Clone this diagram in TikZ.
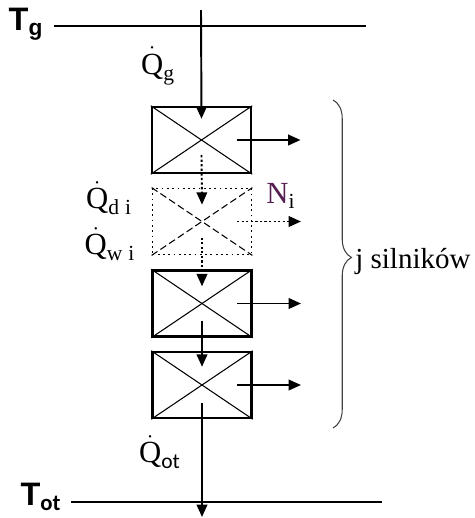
\documentclass[tikz,border=0pt]{standalone}
\usepackage{amsmath}
\usepackage{fontspec}
\setmainfont{Liberation Serif}
\newfontfamily\labelfont{Liberation Sans}
\newfontfamily\subfont{Carlito}
\usetikzlibrary{positioning,arrows.meta,calc,decorations.pathreplacing}
\definecolor{npurple}{RGB}{85,30,80}
\newcommand{\qdot}{\dot{\text{Q}}}

\begin{document}
\begin{tikzpicture}[
  x=0.02cm, y=-0.02cm,
  engine/.style={draw, line width=1.4pt, minimum width=1.98cm, minimum height=1.32cm, inner sep=0pt},
  ghost/.style={draw, dotted, line width=1pt, minimum width=1.98cm, minimum height=1.32cm, inner sep=0pt},
  cross/.style={line width=0.6pt},
  flow/.style={line width=1.1pt, -{Triangle[length=7pt,width=6pt]}},
  dflow/.style={flow, dash pattern=on 1.3pt off 1.3pt},
  level/.style={line width=1.1pt},
  lbl/.style={font=\fontsize{17.5}{20}\selectfont, inner sep=0pt},
  temp/.style={font=\labelfont\bfseries\fontsize{18.5}{21}\selectfont, inner sep=0pt},
  brace/.style={decorate, decoration={brace, amplitude=10.5pt, aspect=0.48}, line width=0.6pt, black!75}
]
\useasboundingbox (0,0) rectangle (475,518);

\node[temp] (tg) at (26,24) {T$_{\text{g}}$};
\node[temp] (tot) at (41,497) {T$_{\text{\subfont ot}}$};
\coordinate (gl) at (54,26);
\coordinate (gr) at (366,26);
\coordinate (ol) at (71,502);
\coordinate (or) at (382,502);
\draw[level] (gl) -- (gr);
\draw[level] (ol) -- (or);

\node[engine] (e1) at (201.5,140) {};
\node[ghost] (e2) at (202,221.5) {};
\node[engine] (e3) at (202,303.5) {};
\node[engine] (e4) at (202,385) {};

\foreach \e in {e1,e3,e4} {
  \draw[cross] (\e.north west) -- (\e.south east);
  \draw[cross] (\e.south west) -- (\e.north east);
  \draw[flow] ($(\e.center)+(35,0)$) -- ($(\e.center)+(99,0)$);
}
\draw[cross, dash pattern=on 4pt off 2pt] (e2.north west) -- (e2.south east);
\draw[cross, dash pattern=on 4pt off 2pt] (e2.south west) -- (e2.north east);
\draw[dflow] ($(e2.center)+(35,0)$) -- ($(e2.center)+(99,0)$);

\coordinate (src) at (201,10);
\coordinate (sink) at (202,517);
\draw[flow] (src) -- ($(e1.north)+(0,13)$);
\draw[dflow] ($(e1.center)+(0,15)$) -- ($(e2.north)+(0,17)$);
\draw[dflow] ($(e2.center)+(0,16)$) -- ($(e3.north)+(0,17)$);
\draw[flow] ($(e3.center)+(0,17)$) -- ($(e4.north)+(0,16)$);
\draw[flow] ($(e4.center)+(0,18)$) -- (sink);

\node[lbl] (qg) at (158,66) {$\qdot_{\text{g}}$};
\node[lbl] (qdi) at (109,198) {$\qdot_{\text{d\;i}}$};
\node[lbl] (qwi) at (110,244) {$\qdot_{\text{w\;i}}$};
\node[lbl] (ni) at (281,196) {$\text{\textcolor{npurple}{N}}_{\text{i}}$};
\node[lbl] (qot) at (160,452) {$\qdot_{\text{\subfont ot}}$};

\coordinate (bt) at (333,100);
\coordinate (bb) at (333,428);
\draw[brace] (bt) -- (bb);
\node[lbl, anchor=west, font=\fontsize{16.5}{19}\selectfont] (js) at (355,262) {j silników};
\end{tikzpicture}
\end{document}
